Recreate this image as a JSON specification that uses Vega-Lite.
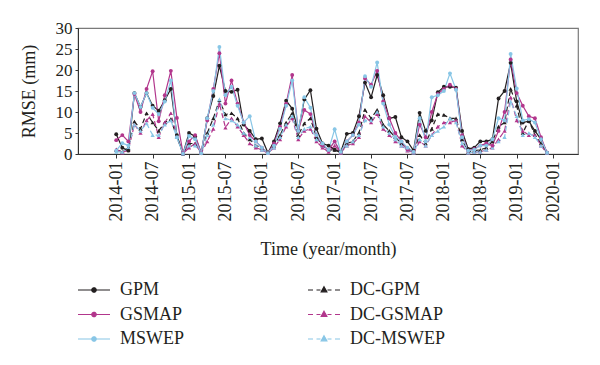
{
"$schema": "https://vega.github.io/schema/vega-lite/v6.json",
"width": 500, "height": 126,
"autosize": {"type": "none"},
"padding": {"left": 78, "top": 28, "right": 22, "bottom": 211},
"background": "white",
"config": {
  "view": {"stroke": "#7a7a7a", "strokeWidth": 1.2},
  "font": "Liberation Serif",
  "axis": {"labelFont": "Liberation Serif", "titleFont": "Liberation Serif", "labelColor": "#231f20", "titleColor": "#231f20", "titleFontWeight": "normal", "grid": false, "domainColor": "#333333", "tickColor": "#333333"}
},
"data": {"values": [
{"m":0,"s":"GPM","v":4.7},{"m":1,"s":"GPM","v":1.5},{"m":2,"s":"GPM","v":0.8},{"m":3,"s":"GPM","v":14.5},{"m":4,"s":"GPM","v":11.2},{"m":5,"s":"GPM","v":14.5},{"m":6,"s":"GPM","v":11.5},{"m":7,"s":"GPM","v":10.3},{"m":8,"s":"GPM","v":12.8},{"m":9,"s":"GPM","v":15.5},{"m":10,"s":"GPM","v":4.5},{"m":11,"s":"GPM","v":0.1},
{"m":12,"s":"GPM","v":5.0},{"m":13,"s":"GPM","v":4.2},{"m":14,"s":"GPM","v":0.2},{"m":15,"s":"GPM","v":8.5},{"m":16,"s":"GPM","v":13.8},{"m":17,"s":"GPM","v":21.0},{"m":18,"s":"GPM","v":15.0},{"m":19,"s":"GPM","v":14.8},{"m":20,"s":"GPM","v":15.3},{"m":21,"s":"GPM","v":7.0},{"m":22,"s":"GPM","v":5.5},{"m":23,"s":"GPM","v":3.5},
{"m":24,"s":"GPM","v":3.7},{"m":25,"s":"GPM","v":0.3},{"m":26,"s":"GPM","v":3.0},{"m":27,"s":"GPM","v":7.3},{"m":28,"s":"GPM","v":12.7},{"m":29,"s":"GPM","v":10.8},{"m":30,"s":"GPM","v":5.5},{"m":31,"s":"GPM","v":13.0},{"m":32,"s":"GPM","v":15.2},{"m":33,"s":"GPM","v":6.0},{"m":34,"s":"GPM","v":2.5},{"m":35,"s":"GPM","v":2.0},
{"m":36,"s":"GPM","v":1.0},{"m":37,"s":"GPM","v":0.5},{"m":38,"s":"GPM","v":4.8},{"m":39,"s":"GPM","v":5.0},{"m":40,"s":"GPM","v":9.0},{"m":41,"s":"GPM","v":17.0},{"m":42,"s":"GPM","v":13.5},{"m":43,"s":"GPM","v":18.8},{"m":44,"s":"GPM","v":14.0},{"m":45,"s":"GPM","v":8.5},{"m":46,"s":"GPM","v":8.8},{"m":47,"s":"GPM","v":4.0},
{"m":48,"s":"GPM","v":3.0},{"m":49,"s":"GPM","v":0.8},{"m":50,"s":"GPM","v":9.8},{"m":51,"s":"GPM","v":5.5},{"m":52,"s":"GPM","v":8.0},{"m":53,"s":"GPM","v":14.7},{"m":54,"s":"GPM","v":16.0},{"m":55,"s":"GPM","v":16.0},{"m":56,"s":"GPM","v":15.8},{"m":57,"s":"GPM","v":5.5},{"m":58,"s":"GPM","v":1.2},{"m":59,"s":"GPM","v":1.5},
{"m":60,"s":"GPM","v":3.0},{"m":61,"s":"GPM","v":3.0},{"m":62,"s":"GPM","v":3.5},{"m":63,"s":"GPM","v":13.2},{"m":64,"s":"GPM","v":15.0},{"m":65,"s":"GPM","v":21.7},{"m":66,"s":"GPM","v":12.5},{"m":67,"s":"GPM","v":7.5},{"m":68,"s":"GPM","v":7.8},{"m":69,"s":"GPM","v":5.5},{"m":70,"s":"GPM","v":3.5},{"m":71,"s":"GPM","v":0.3},
{"m":0,"s":"GSMAP","v":3.3},{"m":1,"s":"GSMAP","v":4.5},{"m":2,"s":"GSMAP","v":3.0},{"m":3,"s":"GSMAP","v":14.3},{"m":4,"s":"GSMAP","v":10.0},{"m":5,"s":"GSMAP","v":15.5},{"m":6,"s":"GSMAP","v":19.7},{"m":7,"s":"GSMAP","v":7.8},{"m":8,"s":"GSMAP","v":14.0},{"m":9,"s":"GSMAP","v":19.8},{"m":10,"s":"GSMAP","v":8.6},{"m":11,"s":"GSMAP","v":0.2},
{"m":12,"s":"GSMAP","v":3.0},{"m":13,"s":"GSMAP","v":4.5},{"m":14,"s":"GSMAP","v":0.3},{"m":15,"s":"GSMAP","v":8.0},{"m":16,"s":"GSMAP","v":15.5},{"m":17,"s":"GSMAP","v":24.0},{"m":18,"s":"GSMAP","v":12.0},{"m":19,"s":"GSMAP","v":17.5},{"m":20,"s":"GSMAP","v":12.0},{"m":21,"s":"GSMAP","v":7.5},{"m":22,"s":"GSMAP","v":4.5},{"m":23,"s":"GSMAP","v":3.0},
{"m":24,"s":"GSMAP","v":1.5},{"m":25,"s":"GSMAP","v":0.2},{"m":26,"s":"GSMAP","v":2.5},{"m":27,"s":"GSMAP","v":6.5},{"m":28,"s":"GSMAP","v":12.0},{"m":29,"s":"GSMAP","v":18.8},{"m":30,"s":"GSMAP","v":5.5},{"m":31,"s":"GSMAP","v":10.5},{"m":32,"s":"GSMAP","v":9.5},{"m":33,"s":"GSMAP","v":4.5},{"m":34,"s":"GSMAP","v":2.0},{"m":35,"s":"GSMAP","v":1.0},
{"m":36,"s":"GSMAP","v":3.0},{"m":37,"s":"GSMAP","v":0.3},{"m":38,"s":"GSMAP","v":3.0},{"m":39,"s":"GSMAP","v":4.5},{"m":40,"s":"GSMAP","v":7.5},{"m":41,"s":"GSMAP","v":18.0},{"m":42,"s":"GSMAP","v":16.5},{"m":43,"s":"GSMAP","v":19.8},{"m":44,"s":"GSMAP","v":12.5},{"m":45,"s":"GSMAP","v":8.5},{"m":46,"s":"GSMAP","v":5.0},{"m":47,"s":"GSMAP","v":3.0},
{"m":48,"s":"GSMAP","v":1.0},{"m":49,"s":"GSMAP","v":0.5},{"m":50,"s":"GSMAP","v":7.0},{"m":51,"s":"GSMAP","v":4.0},{"m":52,"s":"GSMAP","v":10.0},{"m":53,"s":"GSMAP","v":14.3},{"m":54,"s":"GSMAP","v":15.5},{"m":55,"s":"GSMAP","v":16.5},{"m":56,"s":"GSMAP","v":15.5},{"m":57,"s":"GSMAP","v":4.5},{"m":58,"s":"GSMAP","v":0.8},{"m":59,"s":"GSMAP","v":1.2},
{"m":60,"s":"GSMAP","v":2.0},{"m":61,"s":"GSMAP","v":2.5},{"m":62,"s":"GSMAP","v":2.0},{"m":63,"s":"GSMAP","v":5.5},{"m":64,"s":"GSMAP","v":10.0},{"m":65,"s":"GSMAP","v":22.5},{"m":66,"s":"GSMAP","v":14.5},{"m":67,"s":"GSMAP","v":11.5},{"m":68,"s":"GSMAP","v":9.0},{"m":69,"s":"GSMAP","v":8.5},{"m":70,"s":"GSMAP","v":4.0},{"m":71,"s":"GSMAP","v":0.3},
{"m":0,"s":"MSWEP","v":0.8},{"m":1,"s":"MSWEP","v":2.6},{"m":2,"s":"MSWEP","v":2.0},{"m":3,"s":"MSWEP","v":14.5},{"m":4,"s":"MSWEP","v":11.2},{"m":5,"s":"MSWEP","v":14.5},{"m":6,"s":"MSWEP","v":11.0},{"m":7,"s":"MSWEP","v":9.5},{"m":8,"s":"MSWEP","v":12.5},{"m":9,"s":"MSWEP","v":17.5},{"m":10,"s":"MSWEP","v":4.0},{"m":11,"s":"MSWEP","v":0.1},
{"m":12,"s":"MSWEP","v":4.3},{"m":13,"s":"MSWEP","v":3.5},{"m":14,"s":"MSWEP","v":0.2},{"m":15,"s":"MSWEP","v":8.5},{"m":16,"s":"MSWEP","v":15.0},{"m":17,"s":"MSWEP","v":25.5},{"m":18,"s":"MSWEP","v":14.0},{"m":19,"s":"MSWEP","v":16.0},{"m":20,"s":"MSWEP","v":11.5},{"m":21,"s":"MSWEP","v":7.5},{"m":22,"s":"MSWEP","v":9.0},{"m":23,"s":"MSWEP","v":3.0},
{"m":24,"s":"MSWEP","v":1.5},{"m":25,"s":"MSWEP","v":0.2},{"m":26,"s":"MSWEP","v":2.0},{"m":27,"s":"MSWEP","v":6.0},{"m":28,"s":"MSWEP","v":11.5},{"m":29,"s":"MSWEP","v":17.5},{"m":30,"s":"MSWEP","v":5.5},{"m":31,"s":"MSWEP","v":13.5},{"m":32,"s":"MSWEP","v":11.0},{"m":33,"s":"MSWEP","v":4.5},{"m":34,"s":"MSWEP","v":2.5},{"m":35,"s":"MSWEP","v":1.0},
{"m":36,"s":"MSWEP","v":5.9},{"m":37,"s":"MSWEP","v":0.5},{"m":38,"s":"MSWEP","v":3.0},{"m":39,"s":"MSWEP","v":4.5},{"m":40,"s":"MSWEP","v":7.0},{"m":41,"s":"MSWEP","v":18.5},{"m":42,"s":"MSWEP","v":16.0},{"m":43,"s":"MSWEP","v":21.8},{"m":44,"s":"MSWEP","v":12.0},{"m":45,"s":"MSWEP","v":7.0},{"m":46,"s":"MSWEP","v":4.0},{"m":47,"s":"MSWEP","v":3.0},
{"m":48,"s":"MSWEP","v":1.5},{"m":49,"s":"MSWEP","v":0.5},{"m":50,"s":"MSWEP","v":8.5},{"m":51,"s":"MSWEP","v":3.0},{"m":52,"s":"MSWEP","v":13.5},{"m":53,"s":"MSWEP","v":14.0},{"m":54,"s":"MSWEP","v":15.0},{"m":55,"s":"MSWEP","v":19.2},{"m":56,"s":"MSWEP","v":15.3},{"m":57,"s":"MSWEP","v":4.0},{"m":58,"s":"MSWEP","v":0.8},{"m":59,"s":"MSWEP","v":1.0},
{"m":60,"s":"MSWEP","v":2.0},{"m":61,"s":"MSWEP","v":2.0},{"m":62,"s":"MSWEP","v":3.5},{"m":63,"s":"MSWEP","v":8.5},{"m":64,"s":"MSWEP","v":8.0},{"m":65,"s":"MSWEP","v":23.8},{"m":66,"s":"MSWEP","v":15.6},{"m":67,"s":"MSWEP","v":8.0},{"m":68,"s":"MSWEP","v":8.3},{"m":69,"s":"MSWEP","v":7.5},{"m":70,"s":"MSWEP","v":3.5},{"m":71,"s":"MSWEP","v":0.3},
{"m":0,"s":"DC-GPM","v":1.0},{"m":1,"s":"DC-GPM","v":0.5},{"m":2,"s":"DC-GPM","v":1.5},{"m":3,"s":"DC-GPM","v":7.7},{"m":4,"s":"DC-GPM","v":6.0},{"m":5,"s":"DC-GPM","v":9.7},{"m":6,"s":"DC-GPM","v":7.5},{"m":7,"s":"DC-GPM","v":5.5},{"m":8,"s":"DC-GPM","v":7.5},{"m":9,"s":"DC-GPM","v":8.3},{"m":10,"s":"DC-GPM","v":4.0},{"m":11,"s":"DC-GPM","v":0.1},
{"m":12,"s":"DC-GPM","v":2.5},{"m":13,"s":"DC-GPM","v":2.5},{"m":14,"s":"DC-GPM","v":0.2},{"m":15,"s":"DC-GPM","v":5.0},{"m":16,"s":"DC-GPM","v":8.5},{"m":17,"s":"DC-GPM","v":12.8},{"m":18,"s":"DC-GPM","v":9.4},{"m":19,"s":"DC-GPM","v":9.7},{"m":20,"s":"DC-GPM","v":8.5},{"m":21,"s":"DC-GPM","v":5.0},{"m":22,"s":"DC-GPM","v":3.5},{"m":23,"s":"DC-GPM","v":2.0},
{"m":24,"s":"DC-GPM","v":1.5},{"m":25,"s":"DC-GPM","v":0.2},{"m":26,"s":"DC-GPM","v":2.0},{"m":27,"s":"DC-GPM","v":4.5},{"m":28,"s":"DC-GPM","v":7.5},{"m":29,"s":"DC-GPM","v":9.7},{"m":30,"s":"DC-GPM","v":4.5},{"m":31,"s":"DC-GPM","v":7.3},{"m":32,"s":"DC-GPM","v":8.5},{"m":33,"s":"DC-GPM","v":4.0},{"m":34,"s":"DC-GPM","v":2.0},{"m":35,"s":"DC-GPM","v":1.0},
{"m":36,"s":"DC-GPM","v":1.0},{"m":37,"s":"DC-GPM","v":0.3},{"m":38,"s":"DC-GPM","v":2.5},{"m":39,"s":"DC-GPM","v":3.0},{"m":40,"s":"DC-GPM","v":5.0},{"m":41,"s":"DC-GPM","v":10.5},{"m":42,"s":"DC-GPM","v":8.5},{"m":43,"s":"DC-GPM","v":10.5},{"m":44,"s":"DC-GPM","v":7.0},{"m":45,"s":"DC-GPM","v":5.5},{"m":46,"s":"DC-GPM","v":4.0},{"m":47,"s":"DC-GPM","v":2.5},
{"m":48,"s":"DC-GPM","v":1.5},{"m":49,"s":"DC-GPM","v":0.5},{"m":50,"s":"DC-GPM","v":4.5},{"m":51,"s":"DC-GPM","v":2.5},{"m":52,"s":"DC-GPM","v":6.0},{"m":53,"s":"DC-GPM","v":9.5},{"m":54,"s":"DC-GPM","v":9.3},{"m":55,"s":"DC-GPM","v":8.5},{"m":56,"s":"DC-GPM","v":8.5},{"m":57,"s":"DC-GPM","v":3.5},{"m":58,"s":"DC-GPM","v":0.5},{"m":59,"s":"DC-GPM","v":0.8},
{"m":60,"s":"DC-GPM","v":1.0},{"m":61,"s":"DC-GPM","v":1.5},{"m":62,"s":"DC-GPM","v":3.0},{"m":63,"s":"DC-GPM","v":6.5},{"m":64,"s":"DC-GPM","v":7.5},{"m":65,"s":"DC-GPM","v":15.5},{"m":66,"s":"DC-GPM","v":11.5},{"m":67,"s":"DC-GPM","v":5.0},{"m":68,"s":"DC-GPM","v":8.0},{"m":69,"s":"DC-GPM","v":4.5},{"m":70,"s":"DC-GPM","v":2.5},{"m":71,"s":"DC-GPM","v":0.3},
{"m":0,"s":"DC-GSMAP","v":1.1},{"m":1,"s":"DC-GSMAP","v":0.3},{"m":2,"s":"DC-GSMAP","v":1.0},{"m":3,"s":"DC-GSMAP","v":7.0},{"m":4,"s":"DC-GSMAP","v":5.0},{"m":5,"s":"DC-GSMAP","v":8.0},{"m":6,"s":"DC-GSMAP","v":9.5},{"m":7,"s":"DC-GSMAP","v":4.0},{"m":8,"s":"DC-GSMAP","v":7.5},{"m":9,"s":"DC-GSMAP","v":9.7},{"m":10,"s":"DC-GSMAP","v":4.2},{"m":11,"s":"DC-GSMAP","v":0.1},
{"m":12,"s":"DC-GSMAP","v":1.5},{"m":13,"s":"DC-GSMAP","v":2.5},{"m":14,"s":"DC-GSMAP","v":0.2},{"m":15,"s":"DC-GSMAP","v":3.0},{"m":16,"s":"DC-GSMAP","v":6.0},{"m":17,"s":"DC-GSMAP","v":12.0},{"m":18,"s":"DC-GSMAP","v":6.3},{"m":19,"s":"DC-GSMAP","v":8.5},{"m":20,"s":"DC-GSMAP","v":6.5},{"m":21,"s":"DC-GSMAP","v":4.5},{"m":22,"s":"DC-GSMAP","v":2.5},{"m":23,"s":"DC-GSMAP","v":1.5},
{"m":24,"s":"DC-GSMAP","v":1.0},{"m":25,"s":"DC-GSMAP","v":0.2},{"m":26,"s":"DC-GSMAP","v":1.5},{"m":27,"s":"DC-GSMAP","v":3.5},{"m":28,"s":"DC-GSMAP","v":6.5},{"m":29,"s":"DC-GSMAP","v":8.5},{"m":30,"s":"DC-GSMAP","v":3.5},{"m":31,"s":"DC-GSMAP","v":5.5},{"m":32,"s":"DC-GSMAP","v":6.0},{"m":33,"s":"DC-GSMAP","v":3.0},{"m":34,"s":"DC-GSMAP","v":1.5},{"m":35,"s":"DC-GSMAP","v":0.5},
{"m":36,"s":"DC-GSMAP","v":2.0},{"m":37,"s":"DC-GSMAP","v":0.3},{"m":38,"s":"DC-GSMAP","v":2.0},{"m":39,"s":"DC-GSMAP","v":2.5},{"m":40,"s":"DC-GSMAP","v":4.0},{"m":41,"s":"DC-GSMAP","v":9.0},{"m":42,"s":"DC-GSMAP","v":7.5},{"m":43,"s":"DC-GSMAP","v":9.5},{"m":44,"s":"DC-GSMAP","v":6.0},{"m":45,"s":"DC-GSMAP","v":4.5},{"m":46,"s":"DC-GSMAP","v":3.0},{"m":47,"s":"DC-GSMAP","v":2.0},
{"m":48,"s":"DC-GSMAP","v":0.8},{"m":49,"s":"DC-GSMAP","v":0.3},{"m":50,"s":"DC-GSMAP","v":3.0},{"m":51,"s":"DC-GSMAP","v":2.0},{"m":52,"s":"DC-GSMAP","v":4.5},{"m":53,"s":"DC-GSMAP","v":6.5},{"m":54,"s":"DC-GSMAP","v":7.5},{"m":55,"s":"DC-GSMAP","v":7.5},{"m":56,"s":"DC-GSMAP","v":8.0},{"m":57,"s":"DC-GSMAP","v":2.0},{"m":58,"s":"DC-GSMAP","v":0.3},{"m":59,"s":"DC-GSMAP","v":0.5},
{"m":60,"s":"DC-GSMAP","v":0.5},{"m":61,"s":"DC-GSMAP","v":1.0},{"m":62,"s":"DC-GSMAP","v":1.5},{"m":63,"s":"DC-GSMAP","v":3.5},{"m":64,"s":"DC-GSMAP","v":5.5},{"m":65,"s":"DC-GSMAP","v":13.5},{"m":66,"s":"DC-GSMAP","v":8.0},{"m":67,"s":"DC-GSMAP","v":5.5},{"m":68,"s":"DC-GSMAP","v":4.5},{"m":69,"s":"DC-GSMAP","v":4.5},{"m":70,"s":"DC-GSMAP","v":2.0},{"m":71,"s":"DC-GSMAP","v":0.2},
{"m":0,"s":"DC-MSWEP","v":0.5},{"m":1,"s":"DC-MSWEP","v":0.5},{"m":2,"s":"DC-MSWEP","v":1.5},{"m":3,"s":"DC-MSWEP","v":7.0},{"m":4,"s":"DC-MSWEP","v":5.5},{"m":5,"s":"DC-MSWEP","v":7.3},{"m":6,"s":"DC-MSWEP","v":4.5},{"m":7,"s":"DC-MSWEP","v":4.5},{"m":8,"s":"DC-MSWEP","v":7.0},{"m":9,"s":"DC-MSWEP","v":8.0},{"m":10,"s":"DC-MSWEP","v":4.0},{"m":11,"s":"DC-MSWEP","v":0.1},
{"m":12,"s":"DC-MSWEP","v":2.0},{"m":13,"s":"DC-MSWEP","v":2.0},{"m":14,"s":"DC-MSWEP","v":0.2},{"m":15,"s":"DC-MSWEP","v":4.5},{"m":16,"s":"DC-MSWEP","v":7.0},{"m":17,"s":"DC-MSWEP","v":13.0},{"m":18,"s":"DC-MSWEP","v":8.5},{"m":19,"s":"DC-MSWEP","v":8.0},{"m":20,"s":"DC-MSWEP","v":7.0},{"m":21,"s":"DC-MSWEP","v":5.0},{"m":22,"s":"DC-MSWEP","v":4.0},{"m":23,"s":"DC-MSWEP","v":2.0},
{"m":24,"s":"DC-MSWEP","v":1.0},{"m":25,"s":"DC-MSWEP","v":0.2},{"m":26,"s":"DC-MSWEP","v":1.5},{"m":27,"s":"DC-MSWEP","v":4.0},{"m":28,"s":"DC-MSWEP","v":7.0},{"m":29,"s":"DC-MSWEP","v":9.0},{"m":30,"s":"DC-MSWEP","v":4.0},{"m":31,"s":"DC-MSWEP","v":6.0},{"m":32,"s":"DC-MSWEP","v":6.5},{"m":33,"s":"DC-MSWEP","v":3.5},{"m":34,"s":"DC-MSWEP","v":2.0},{"m":35,"s":"DC-MSWEP","v":1.0},
{"m":36,"s":"DC-MSWEP","v":3.0},{"m":37,"s":"DC-MSWEP","v":0.3},{"m":38,"s":"DC-MSWEP","v":2.0},{"m":39,"s":"DC-MSWEP","v":3.0},{"m":40,"s":"DC-MSWEP","v":4.5},{"m":41,"s":"DC-MSWEP","v":8.0},{"m":42,"s":"DC-MSWEP","v":8.0},{"m":43,"s":"DC-MSWEP","v":10.0},{"m":44,"s":"DC-MSWEP","v":6.5},{"m":45,"s":"DC-MSWEP","v":5.0},{"m":46,"s":"DC-MSWEP","v":3.5},{"m":47,"s":"DC-MSWEP","v":2.0},
{"m":48,"s":"DC-MSWEP","v":1.0},{"m":49,"s":"DC-MSWEP","v":0.3},{"m":50,"s":"DC-MSWEP","v":3.5},{"m":51,"s":"DC-MSWEP","v":2.0},{"m":52,"s":"DC-MSWEP","v":4.5},{"m":53,"s":"DC-MSWEP","v":5.5},{"m":54,"s":"DC-MSWEP","v":6.5},{"m":55,"s":"DC-MSWEP","v":8.5},{"m":56,"s":"DC-MSWEP","v":7.5},{"m":57,"s":"DC-MSWEP","v":2.5},{"m":58,"s":"DC-MSWEP","v":0.3},{"m":59,"s":"DC-MSWEP","v":0.5},
{"m":60,"s":"DC-MSWEP","v":0.5},{"m":61,"s":"DC-MSWEP","v":1.0},{"m":62,"s":"DC-MSWEP","v":1.5},{"m":63,"s":"DC-MSWEP","v":3.0},{"m":64,"s":"DC-MSWEP","v":4.0},{"m":65,"s":"DC-MSWEP","v":12.5},{"m":66,"s":"DC-MSWEP","v":9.0},{"m":67,"s":"DC-MSWEP","v":4.5},{"m":68,"s":"DC-MSWEP","v":5.0},{"m":69,"s":"DC-MSWEP","v":4.0},{"m":70,"s":"DC-MSWEP","v":2.0},{"m":71,"s":"DC-MSWEP","v":0.2}
]},
"encoding": {
  "x": {"field": "m", "type": "quantitative",
    "scale": {"domain": [-6.3, 76.1], "nice": false, "zero": false},
    "axis": {"values": [0,6,12,18,24,30,36,42,48,54,60,66,72],
      "labelExpr": "['2014-01','2014-07','2015-01','2015-07','2016-01','2016-07','2017-01','2017-07','2017-07','2018-01','2018-07','2019-01','2020-01'][round(datum.value/6)]",
      "labelAngle": -90, "labelFontSize": 18, "tickSize": 4, "labelPadding": 3,
      "labelOverlap": false, "labelBound": false, "labelFlush": false,
      "title": "Time (year/month)", "titleFontSize": 18, "titlePadding": 20}},
  "y": {"field": "v", "type": "quantitative",
    "scale": {"domain": [0, 30], "nice": false},
    "axis": {"values": [0,5,10,15,20,25,30], "title": "RMSE (mm)", "labelFontSize": 17, "titleFontSize": 18, "tickSize": 3, "labelPadding": 3, "titlePadding": 17}},
  "color": {"field": "s", "type": "nominal",
    "scale": {"domain": ["GPM","GSMAP","MSWEP","DC-GPM","DC-GSMAP","DC-MSWEP"],
              "range": ["#231f20","#b2368c","#88c6e6","#231f20","#b2368c","#88c6e6"]},
    "legend": {"title": null, "orient": "none", "legendX": 5, "legendY": 251, "columns": 2, "columnPadding": 120, "rowPadding": 4.5,
      "symbolSize": 400, "labelFontSize": 18, "labelFont": "Liberation Serif", "labelColor": "#231f20", "labelOffset": 15, "padding": 0, "gridAlign": "each", "symbolStrokeWidth": 1.2,
      "encode": {"symbols": {"update": {
        "shape": {"signal": "indexof(['GPM','GSMAP','MSWEP'], datum.value) >= 0 ? 'M-1.6,0L1.6,0M-0.22,0A0.22,0.22,0,1,1,0.22,0A0.22,0.22,0,1,1,-0.22,0Z' : 'M-1.6,0L-1.1,0M-0.75,0L-0.35,0M0.35,0L0.75,0M1.1,0L1.6,0M0,-0.32L0.28,0.18L-0.28,0.18Z'"},
        "fill": {"signal": "scale('color', datum.value)"},
        "stroke": {"signal": "scale('color', datum.value)"},
        "strokeWidth": {"value": 1.2},
        "strokeDash": {"value": [1, 0]},
        "size": {"value": 400},
        "opacity": {"value": 1}
      }}}}}
},
"layer": [
  {"transform": [{"filter": {"field": "s", "oneOf": ["DC-GPM","DC-GSMAP","DC-MSWEP"]}}],
   "mark": {"type": "line", "strokeWidth": 1.2, "strokeDash": [5, 3]}},
  {"transform": [{"filter": {"field": "s", "oneOf": ["GPM","GSMAP","MSWEP"]}}],
   "mark": {"type": "line", "strokeWidth": 1.2}},
  {"transform": [{"filter": {"field": "s", "oneOf": ["DC-GPM","DC-GSMAP","DC-MSWEP"]}}],
   "mark": {"type": "point", "filled": true, "opacity": 1, "shape": "triangle-up", "size": 18}},
  {"transform": [{"filter": {"field": "s", "oneOf": ["GPM","GSMAP","MSWEP"]}}],
   "mark": {"type": "point", "filled": true, "opacity": 1, "shape": "circle", "size": 15}}
]
}
